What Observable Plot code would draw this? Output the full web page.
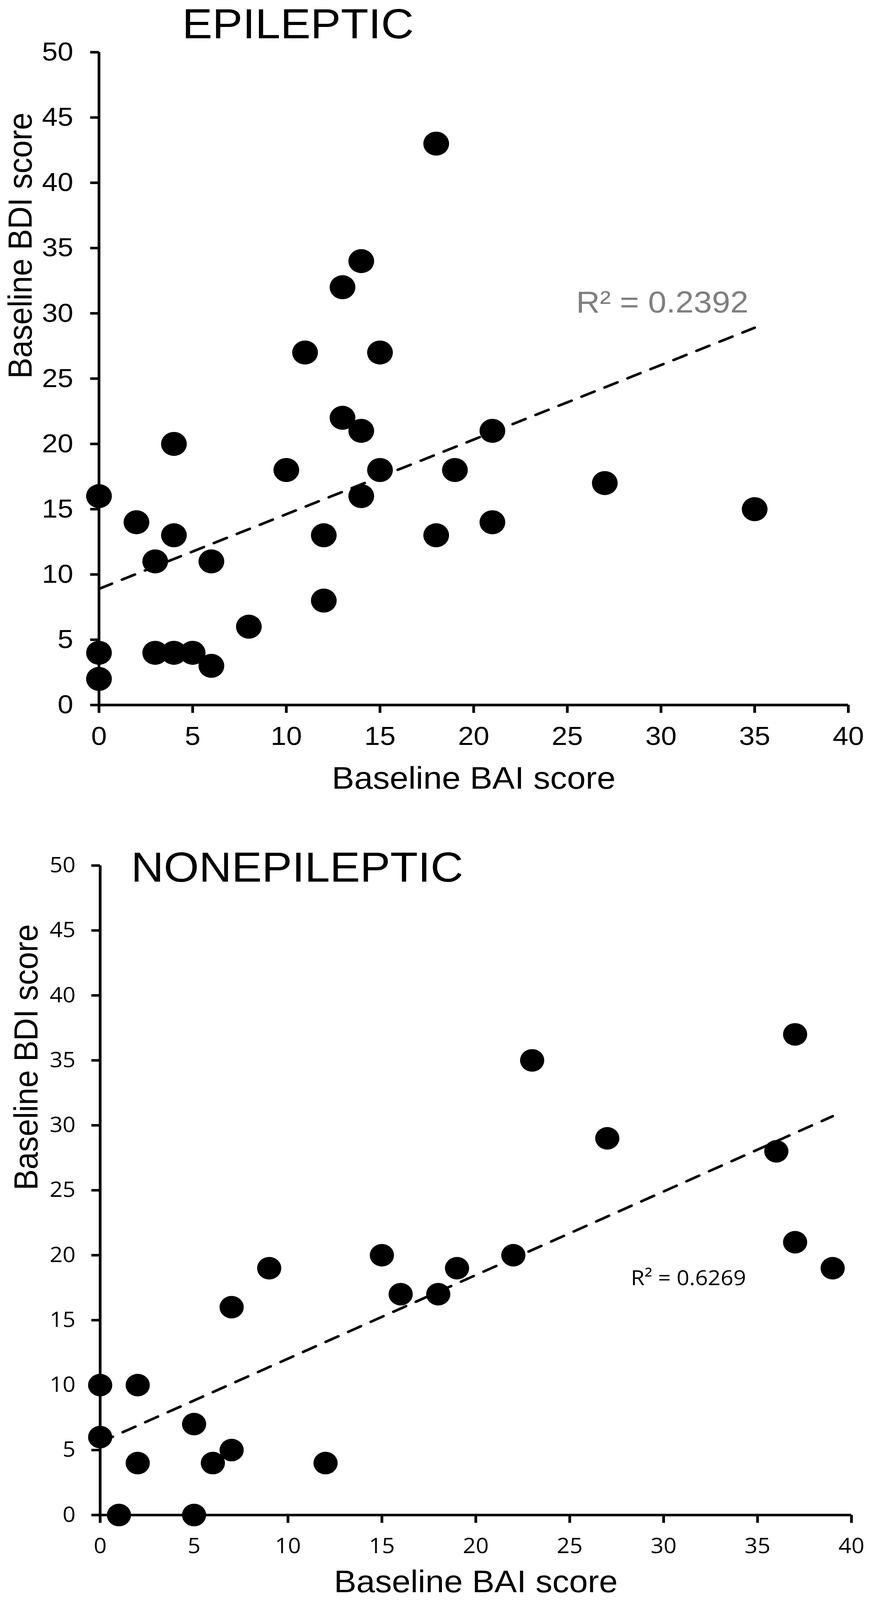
<!DOCTYPE html>
<html>
<head>
<meta charset="utf-8">
<script src="https://cdn.jsdelivr.net/npm/d3@7"></script>
<script src="https://cdn.jsdelivr.net/npm/@observablehq/plot@0.6"></script>
<style>
  html, body { margin: 0; padding: 0; background: #fff; overflow: hidden; height: 4096px; }
  #page { width: 2228px; height: 4397px; transform: scaleY(0.931544); transform-origin: 0 0; }
  #top svg, #bottom svg { display: block; }
</style>
</head>
<body>
<div id="page">
  <div id="top"></div>
  <div id="bottom"></div>
</div>
<script>
// ---- data ----
const epiTitle = "EPILEPTIC";
const nonTitle = "NONEPILEPTIC";
const xLabel = "Baseline BAI score";
const yLabel = "Baseline BDI score";
const epiR2 = "R² = 0.2392";
const nonR2 = "R² = 0.6269";

const epiBAI = [0, 0, 0, 2, 3, 3, 4, 4, 4, 5, 6, 6, 8, 10, 11, 12, 12, 13, 13, 14, 14, 14, 15, 15, 18, 18, 19, 21, 21, 27, 35];
const epiBDI = [16, 4, 2, 14, 11, 4, 20, 13, 4, 4, 11, 3, 6, 18, 27, 13, 8, 32, 22, 34, 21, 16, 27, 18, 43, 13, 18, 21, 14, 17, 15];

const nonBAI = [0, 0, 1, 2, 2, 5, 5, 6, 7, 7, 9, 12, 15, 16, 18, 19, 22, 23, 27, 36, 37, 37, 39];
const nonBDI = [10, 6, 0, 10, 4, 7, 0, 4, 5, 16, 19, 4, 20, 17, 17, 19, 20, 35, 29, 28, 37, 21, 19];

// trendline end points (Excel linear trendline)
const epiTrendBAI = [0, 35];
const epiTrendBDI = [8.9, 28.9];
const nonTrendBAI = [0, 39];
const nonTrendBDI = [5.6, 30.7];

const xTicks = [0, 5, 10, 15, 20, 25, 30, 35, 40];
const yTicks = [0, 5, 10, 15, 20, 25, 30, 35, 40, 45, 50];
const xDomain = [0, 40];
const yDomain = [0, 50];

const epi = epiBAI.map((v, i) => ({bai: v, bdi: epiBDI[i]}));
const non = nonBAI.map((v, i) => ({bai: v, bdi: nonBDI[i]}));
const epiTrend = epiTrendBAI.map((v, i) => ({bai: v, bdi: epiTrendBDI[i]}));
const nonTrend = nonTrendBAI.map((v, i) => ({bai: v, bdi: nonTrendBDI[i]}));

const ARIAL = "'Liberation Sans', Arial, sans-serif";
const CALIBRI = "'Open Sans', 'Noto Sans', sans-serif";

function panel(opts) {
  const {data, trend, title, r2, height, mt, mb, ml, mr, tickFont, tickSize, xPad, yPad,
         titleDx, titleDy, r2Dx, r2Dy, r2Font, r2Size, r2Color, xTitleDy, yTitleDx, dotR} = opts;
  return Plot.plot({
    width: 2228,
    height,
    marginTop: mt, marginBottom: mb, marginLeft: ml, marginRight: mr,
    style: {background: "#fff", color: "#000", fontFamily: tickFont, fontSize: tickSize + "px"},
    x: {domain: xDomain},
    y: {domain: yDomain},
    marks: [
      Plot.ruleY([0], {stroke: "#000", strokeWidth: 7}),
      Plot.ruleX([0], {stroke: "#000", strokeWidth: 7}),
      Plot.axisX({ticks: xTicks, tickSize: 22, tickPadding: xPad, strokeWidth: 7, stroke: "#000",
                  fill: "#000", fontSize: tickSize, fontFamily: tickFont, label: null}),
      Plot.axisY({ticks: yTicks, tickSize: 22, tickPadding: yPad, strokeWidth: 7, stroke: "#000",
                  fill: "#000", fontSize: tickSize, fontFamily: tickFont, label: null}),
      Plot.line(trend, {x: "bai", y: "bdi", stroke: "#000", strokeWidth: 7,
                  strokeDasharray: "36,28", strokeLinecap: "round"}),
      Plot.dot(data, {x: "bai", y: "bdi", r: dotR, fill: "#000", stroke: "none"}),
      Plot.text([title], {frameAnchor: "top-left", dx: titleDx, dy: titleDy, textAnchor: "start",
                  lineAnchor: "bottom", fontSize: 116, fontFamily: ARIAL, fill: "#000"}),
      Plot.text([r2], {frameAnchor: "top-left", dx: r2Dx, dy: r2Dy, textAnchor: "start",
                  lineAnchor: "bottom", fontSize: r2Size, fontFamily: r2Font, fill: r2Color}),
      Plot.text([xLabel], {frameAnchor: "bottom", dy: xTitleDy, lineAnchor: "bottom",
                  fontSize: 86, fontFamily: ARIAL, fill: "#000"}),
      Plot.text([yLabel], {frameAnchor: "left", dx: yTitleDx, rotate: -90, lineAnchor: "middle",
                  fontSize: 86, fontFamily: ARIAL, fill: "#000"})
    ]
  });
}

document.getElementById("top").append(panel({
  data: epi, trend: epiTrend, title: epiTitle, r2: epiR2,
  height: 2240, mt: 143, mb: 303, ml: 253, mr: 56,
  tickFont: ARIAL, tickSize: 72, xPad: 36, yPad: 44,
  titleDx: 213, titleDy: -38,
  r2Dx: 1222, r2Dy: 715, r2Font: ARIAL, r2Size: 84, r2Color: "#7f7f7f",
  xTitleDy: 230, yTitleDx: -200, dotR: 33
}));

document.getElementById("bottom").append(panel({
  data: non, trend: nonTrend, title: nonTitle, r2: nonR2,
  height: 2157, mt: 138, mb: 234, ml: 256, mr: 48,
  tickFont: CALIBRI, tickSize: 58, xPad: 42, yPad: 41,
  titleDx: 79, titleDy: 44,
  r2Dx: 1359, r2Dy: 1153, r2Font: CALIBRI, r2Size: 57, r2Color: "#000",
  xTitleDy: 212, yTitleDx: -188, dotR: 31
}));
</script>
</body>
</html>
